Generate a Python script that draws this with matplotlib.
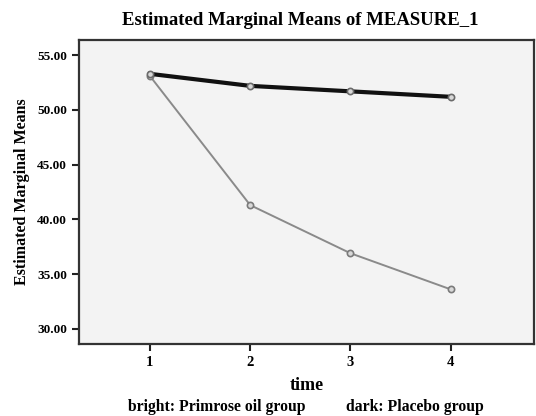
import numpy as np
import matplotlib.pyplot as plt

time = [1, 2, 3, 4]
placebo = [53.3, 52.2, 51.7, 51.2]     # dark
primrose = [53.1, 41.3, 36.9, 33.6]    # bright
yticks = [30, 35, 40, 45, 50, 55]

plt.rcParams['font.family'] = ['Liberation Serif', 'DejaVu Serif']
plt.rcParams['font.weight'] = 'bold'

fig = plt.figure(figsize=(5.36, 4.16), dpi=100)
ax = fig.add_axes([0.147, 0.173, 0.849, 0.731])
ax.set_facecolor('#f3f3f3')

ax.plot(time, primrose, color='#8a8a8a', lw=1.4, marker='o', ms=4.5,
        mfc='#d8d8d8', mec='#7a7a7a', mew=1.2)
ax.plot(time, placebo, color='#111111', lw=3, marker='o', ms=4.5,
        mfc='#d8d8d8', mec='#6a6a6a', mew=1.2, zorder=3)

ax.set_xlim(0.29, 4.83)
ax.set_ylim(28.6, 56.4)
ax.set_xticks(time)
ax.set_xticklabels([str(t) for t in time], fontsize=10.5, fontweight='bold')
ax.set_yticks(yticks)
ax.set_yticklabels(['%.2f' % v for v in yticks], fontsize=9.5, fontweight='bold')
ax.tick_params(axis='both', length=5, width=1.5, color='#222222')
for s in ax.spines.values():
    s.set_linewidth(1.6)
    s.set_color('#333333')

ax.set_xlabel('time', fontsize=13, fontweight='bold', labelpad=6)
ax.set_ylabel('Estimated Marginal Means', fontsize=11.5, fontweight='bold', labelpad=5)
fig.text(0.56, 0.95, 'Estimated Marginal Means of MEASURE_1',
         ha='center', va='center', fontsize=13.5, fontweight='bold')
fig.text(0.405, 0.022, 'bright: Primrose oil group', ha='center', va='center',
         fontsize=11.3, fontweight='bold')
fig.text(0.645, 0.022, 'dark: Placebo group', ha='left', va='center',
         fontsize=11.3, fontweight='bold')

fig.savefig('out.png', dpi=100)
